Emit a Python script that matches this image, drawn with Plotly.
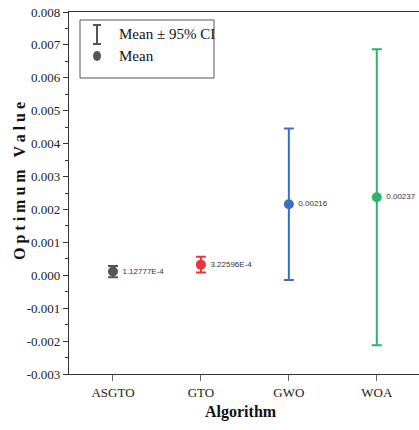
import plotly.graph_objects as go

algorithms = ["ASGTO", "GTO", "GWO", "WOA"]
means = [1.12777e-4, 3.22596e-4, 0.00216, 0.00237]
ci_half = [0.00017, 0.00024, 0.0023, 0.0045]
mean_labels = ["1.12777E-4", "3.22596E-4", "0.00216", "0.00237"]
colors = ["#555555", "#ee3338", "#3b6fc1", "#2db36b"]

y_tickvals = [-0.003, -0.002, -0.001, 0.0, 0.001, 0.002, 0.003, 0.004, 0.005, 0.006, 0.007, 0.008]
y_ticktext = ["-0.003", "-0.002", "-0.001", "0.000", "0.001", "0.002", "0.003",
              "0.004", "0.005", "0.006", "0.007", "0.008"]

serif = "Liberation Serif, Times New Roman, serif"

W, H = 419, 430
ml, mt, mb, mr = 69, 12, 56, 0
pw = W - ml - mr
ph = H - mt - mb


def fx(p):
    return (p - ml) / pw


def fy(p):
    return (H - mb - p) / ph


fig = go.Figure()
for i, alg in enumerate(algorithms):
    fig.add_trace(go.Scatter(
        x=[alg], y=[means[i]],
        mode="markers+text",
        marker=dict(color=colors[i], size=10, symbol="circle", line=dict(width=0)),
        error_y=dict(type="data", array=[ci_half[i]], color=colors[i], thickness=2, width=5),
        text=[" " + mean_labels[i]], textposition="middle right",
        textfont=dict(family="Liberation Sans", size=8, color="#333333"),
        showlegend=False, cliponaxis=False,
    ))

fig.update_layout(
    width=W, height=H,
    margin=dict(l=ml, r=mr, t=mt, b=mb, autoexpand=False),
    paper_bgcolor="white", plot_bgcolor="white",
    font=dict(family=serif, color="#222222"),
    xaxis=dict(
        type="category", range=[-0.5, 3.48], automargin=False,
        showline=True, linecolor="#333333", linewidth=1.2, mirror=True,
        ticks="outside", ticklen=6, tickcolor="#666666",
        tickfont=dict(family=serif, size=13, color="#222222"),
        showgrid=False, zeroline=False,
    ),
    yaxis=dict(
        range=[-0.003, 0.008], automargin=False,
        tickvals=y_tickvals, ticktext=y_ticktext,
        showline=True, linecolor="#333333", linewidth=1.2,
        ticks="outside", ticklen=5, tickcolor="#333333",
        minor=dict(ticks="outside", ticklen=3, dtick=0.0005, tickcolor="#333333", showgrid=False),
        tickfont=dict(family=serif, size=13, color="#222222"),
        showgrid=False, zeroline=False,
    ),
)

# axis titles
fig.add_annotation(xref="paper", yref="paper", x=fx(20), y=fy(181), xanchor="center", yanchor="middle",
                   textangle=-90, showarrow=False,
                   text="<b>O p t i m u m   V a l u e</b>",
                   font=dict(family=serif, size=16, color="#111111"))
fig.add_annotation(xref="paper", yref="paper", x=fx(241), y=fy(412), xanchor="center", yanchor="middle",
                   showarrow=False, text="<b>Algorithm</b>",
                   font=dict(family=serif, size=16, color="#111111"))

# legend box (manual)
fig.add_shape(type="rect", xref="paper", yref="paper",
              x0=fx(80), x1=fx(214), y0=fy(78), y1=fy(20),
              line=dict(color="#555555", width=1), fillcolor="white")
for (x0, y0, x1, y1) in [(97, 25, 97, 44), (93, 25, 101, 25), (93, 44, 101, 44)]:
    fig.add_shape(type="line", xref="paper", yref="paper",
                  x0=fx(x0), y0=fy(y0), x1=fx(x1), y1=fy(y1),
                  line=dict(color="#555555", width=2))
fig.add_shape(type="circle", xref="paper", yref="paper",
              x0=fx(93), x1=fx(101), y0=fy(51), y1=fy(61),
              fillcolor="#555555", line=dict(width=0))

fig.add_annotation(xref="paper", yref="paper", x=fx(117), y=fy(34), xanchor="left", yanchor="middle",
                   text="Mean ± 95% CI", showarrow=False,
                   font=dict(family=serif, size=15, color="#111111"))
fig.add_annotation(xref="paper", yref="paper", x=fx(117), y=fy(56), xanchor="left", yanchor="middle",
                   text="Mean", showarrow=False,
                   font=dict(family=serif, size=15, color="#111111"))

fig.write_html("out.html", config={"displayModeBar": False},
               post_script="document.body.style.margin='0';document.body.style.overflow='hidden';")
